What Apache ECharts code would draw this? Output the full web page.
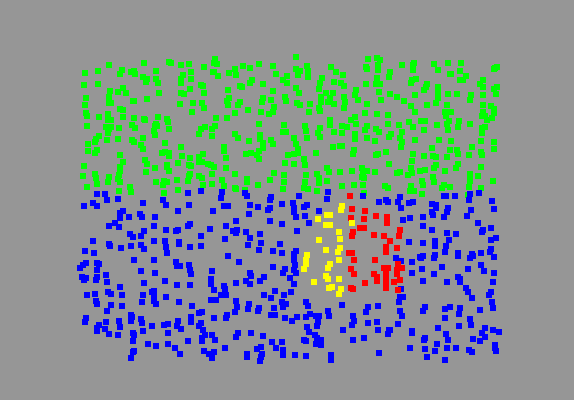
<!DOCTYPE html>
<html><head><meta charset="utf-8">
<style>html,body{margin:0;padding:0;background:#969696}#c{width:574px;height:400px}</style>
<script src="https://cdn.jsdelivr.net/npm/echarts@6/dist/echarts.min.js"></script>
</head><body><div id="c"></div>
<script>
const greenPoints = [[109,65],[144,63],[169,62],[171,63],[181,65],[189,64],[204,67],[215,59],[214,63],[217,64],[235,69],[243,66],[250,68],[259,64],[273,66],[85,73],[98,71],[122,70],[120,74],[131,72],[134,71],[135,74],[156,71],[191,72],[183,75],[213,72],[214,72],[229,73],[236,75],[276,74],[143,77],[147,79],[146,82],[156,79],[158,83],[181,79],[181,83],[191,79],[218,76],[252,80],[250,83],[287,76],[283,80],[287,83],[84,85],[98,84],[201,85],[203,86],[240,86],[242,87],[263,84],[123,88],[190,89],[228,90],[273,91],[110,91],[118,92],[126,93],[159,93],[181,93],[184,94],[204,93],[86,98],[109,97],[147,99],[133,101],[134,101],[229,98],[227,101],[263,98],[271,100],[285,97],[286,101],[85,105],[109,103],[111,103],[180,104],[193,103],[202,103],[228,105],[238,105],[240,102],[262,102],[120,109],[123,110],[204,108],[192,112],[248,110],[274,107],[261,112],[273,112],[269,114],[235,113],[86,113],[87,116],[99,117],[108,114],[123,117],[134,118],[144,119],[145,120],[158,117],[167,119],[216,118],[227,118],[108,120],[111,120],[168,122],[259,124],[87,126],[106,127],[111,127],[109,129],[119,128],[132,125],[135,128],[156,124],[155,126],[157,126],[169,129],[205,127],[201,129],[215,126],[212,129],[284,125],[108,133],[154,131],[155,135],[199,134],[212,136],[235,134],[238,138],[260,135],[283,132],[286,132],[99,136],[96,139],[95,142],[107,140],[118,139],[132,140],[134,142],[143,138],[165,143],[249,141],[260,139],[263,143],[271,140],[273,144],[88,144],[141,145],[143,149],[181,147],[224,147],[263,148],[88,151],[97,150],[95,153],[224,151],[259,151],[120,155],[162,153],[165,152],[169,153],[169,156],[182,156],[203,154],[199,157],[246,154],[251,153],[257,155],[288,155],[226,158],[259,159],[190,158],[145,160],[123,162],[147,164],[167,165],[178,163],[189,165],[191,166],[199,162],[202,162],[208,164],[211,165],[214,167],[285,163],[84,166],[120,167],[155,168],[167,167],[226,168],[169,171],[120,171],[146,172],[274,173],[190,174],[189,176],[95,174],[83,176],[109,177],[119,175],[212,174],[235,174],[284,175],[199,176],[202,178],[96,178],[97,184],[108,182],[118,179],[120,182],[156,182],[164,181],[167,182],[163,185],[177,180],[188,181],[222,180],[247,179],[247,182],[270,180],[284,182],[87,187],[130,187],[203,185],[212,184],[224,186],[258,185],[235,188],[236,189],[283,189],[119,191],[131,192],[164,193],[178,190],[245,190],
[296,57],[368,59],[377,58],[380,60],[378,65],[402,65],[414,63],[413,65],[434,64],[448,63],[461,63],[296,69],[300,71],[298,75],[307,66],[308,71],[308,77],[331,67],[336,72],[343,75],[366,67],[367,69],[378,70],[390,72],[389,77],[413,70],[438,70],[450,74],[451,74],[460,71],[466,76],[495,68],[497,67],[494,69],[322,78],[320,83],[334,82],[341,83],[344,86],[366,84],[377,78],[376,84],[380,84],[416,79],[411,83],[412,80],[427,84],[460,80],[463,80],[483,80],[480,84],[483,87],[497,87],[494,89],[438,87],[296,88],[299,93],[319,89],[326,93],[333,93],[356,90],[379,92],[390,94],[424,90],[426,87],[438,93],[448,94],[457,94],[415,95],[471,95],[483,95],[496,94],[321,97],[321,102],[328,102],[330,98],[334,104],[344,97],[345,102],[344,108],[355,95],[358,100],[381,100],[397,97],[404,101],[438,98],[436,103],[470,100],[297,103],[300,105],[310,104],[367,104],[411,106],[427,105],[447,105],[483,105],[491,106],[494,109],[319,108],[320,111],[309,112],[365,113],[377,114],[388,115],[415,112],[445,112],[451,112],[446,116],[483,112],[482,116],[485,116],[494,113],[492,118],[487,120],[355,117],[330,120],[351,120],[356,124],[330,125],[342,126],[347,127],[367,126],[365,130],[388,124],[399,125],[409,122],[413,127],[421,121],[425,121],[437,125],[447,124],[449,121],[459,121],[458,127],[470,124],[485,127],[482,128],[305,126],[306,131],[320,128],[318,133],[334,132],[342,133],[376,129],[379,132],[402,132],[424,130],[448,130],[482,133],[307,138],[320,137],[355,134],[355,139],[367,138],[375,141],[391,134],[389,137],[400,138],[402,142],[415,140],[439,140],[451,141],[481,141],[494,142],[294,138],[296,144],[298,149],[333,147],[340,146],[342,146],[401,147],[432,148],[472,147],[494,149],[294,154],[298,153],[316,153],[354,150],[353,154],[376,155],[378,154],[386,152],[413,154],[424,156],[433,156],[436,157],[450,150],[447,157],[457,150],[458,154],[469,155],[481,152],[482,155],[294,164],[304,159],[305,165],[412,161],[389,164],[436,165],[458,164],[456,168],[327,168],[329,172],[340,172],[352,171],[362,168],[363,172],[367,171],[375,172],[411,168],[420,171],[425,170],[434,168],[445,171],[481,167],[397,173],[400,172],[408,175],[412,173],[306,175],[317,174],[319,178],[319,183],[327,181],[362,177],[364,178],[363,185],[354,185],[422,181],[423,185],[433,177],[434,182],[470,174],[470,178],[478,176],[470,181],[493,181],[305,182],[342,186],[385,186],[388,188],[411,186],[410,191],[414,191],[444,185],[442,188],[450,187],[469,187],[481,188],[304,188],[308,189],[317,191],[364,193],[422,194],[468,195]];
const bluePoints = [[97,194],[105,194],[107,200],[118,199],[93,203],[97,206],[84,206],[143,203],[163,200],[166,205],[188,193],[201,191],[222,192],[221,198],[245,193],[247,196],[271,197],[270,200],[282,204],[250,205],[258,207],[224,206],[228,206],[189,205],[213,211],[178,211],[270,208],[268,210],[249,214],[123,211],[120,213],[120,218],[129,217],[140,214],[142,217],[155,217],[236,221],[270,221],[115,223],[109,226],[119,227],[154,226],[190,224],[188,226],[226,226],[282,224],[144,231],[166,230],[178,230],[176,231],[210,229],[233,231],[237,230],[236,233],[246,232],[130,234],[133,237],[141,236],[201,236],[260,234],[250,238],[225,239],[93,241],[109,244],[110,246],[121,248],[131,246],[141,245],[144,249],[154,241],[165,241],[166,247],[179,242],[179,244],[190,247],[201,246],[248,245],[261,243],[280,244],[259,250],[273,251],[282,253],[85,251],[94,253],[167,253],[228,256],[134,260],[154,260],[176,262],[239,262],[86,263],[83,265],[80,268],[97,263],[99,264],[97,270],[177,266],[180,266],[189,265],[190,270],[191,274],[212,271],[273,267],[285,269],[283,273],[141,271],[155,273],[250,273],[251,276],[106,275],[82,277],[86,278],[84,280],[97,277],[96,280],[107,282],[144,283],[165,281],[211,279],[211,284],[177,285],[190,285],[236,283],[246,281],[250,284],[264,277],[260,281],[120,287],[224,286],[225,289],[214,290],[108,292],[111,294],[87,295],[95,294],[122,295],[143,295],[154,291],[152,292],[154,296],[166,297],[221,295],[226,295],[275,291],[264,295],[284,295],[271,298],[96,301],[97,304],[111,305],[122,306],[142,302],[154,301],[156,304],[179,302],[211,300],[216,300],[236,301],[192,306],[249,304],[282,302],[286,304],[283,307],[274,308],[107,311],[237,307],[235,312],[248,309],[259,308],[258,311],[202,312],[199,313],[131,315],[132,317],[227,315],[226,318],[271,315],[275,315],[214,318],[191,317],[285,318],[86,318],[85,322],[106,322],[119,321],[131,321],[141,319],[142,323],[191,322],[178,321],[168,324],[164,325],[152,326],[201,323],[199,326],[177,326],[99,325],[120,327],[181,329],[97,328],[97,331],[105,329],[109,334],[118,335],[143,331],[133,333],[134,335],[168,333],[203,330],[205,335],[212,335],[238,333],[236,337],[251,333],[263,336],[133,341],[202,338],[202,341],[188,341],[215,340],[148,344],[156,346],[168,344],[272,342],[282,342],[276,348],[261,347],[257,349],[225,348],[175,348],[134,351],[133,352],[204,351],[214,352],[209,354],[180,354],[247,354],[262,354],[283,350],[283,355],[212,358],[131,358],[247,357],[261,357],[260,361],
[299,196],[328,192],[327,199],[293,203],[307,205],[304,207],[294,208],[294,212],[319,211],[305,216],[296,217],[309,223],[297,231],[379,202],[386,200],[388,202],[400,197],[398,202],[401,208],[413,202],[409,203],[363,196],[403,220],[410,218],[423,217],[423,226],[432,204],[436,205],[436,208],[432,212],[433,215],[448,208],[447,212],[444,217],[446,196],[444,196],[455,196],[470,194],[469,200],[479,193],[492,201],[494,209],[471,210],[467,216],[478,223],[432,230],[447,233],[456,234],[483,230],[482,232],[491,228],[491,240],[496,238],[449,240],[435,241],[435,246],[423,243],[409,242],[446,246],[445,252],[491,249],[490,252],[481,253],[458,253],[458,256],[472,254],[470,258],[473,256],[494,257],[435,255],[434,258],[423,256],[420,257],[421,258],[296,251],[294,254],[294,260],[295,265],[294,270],[296,273],[290,278],[294,284],[396,258],[401,261],[412,262],[422,269],[442,267],[481,265],[468,269],[484,271],[494,273],[412,273],[434,274],[458,277],[460,279],[460,282],[447,282],[423,281],[493,282],[466,288],[468,292],[291,292],[489,295],[491,292],[472,298],[401,289],[403,297],[400,297],[399,302],[306,302],[308,306],[342,305],[368,307],[378,306],[366,312],[492,302],[493,308],[425,307],[423,311],[450,307],[445,309],[460,308],[459,314],[480,310],[328,311],[329,316],[310,314],[316,316],[319,316],[306,317],[297,317],[400,311],[402,316],[353,316],[354,321],[352,325],[368,323],[377,322],[398,324],[292,321],[318,322],[317,326],[445,318],[470,319],[471,325],[459,326],[438,328],[307,327],[309,332],[343,330],[378,330],[390,330],[388,334],[389,330],[412,331],[412,333],[485,328],[493,330],[499,332],[482,333],[485,337],[446,334],[315,335],[317,338],[321,340],[321,345],[316,344],[304,340],[306,341],[353,340],[364,338],[425,338],[424,340],[448,340],[473,339],[480,341],[437,344],[495,345],[495,348],[447,348],[456,348],[410,348],[425,349],[435,351],[469,350],[472,352],[496,351],[295,355],[306,356],[331,355],[331,360],[379,353],[427,357],[445,360]];
const redPoints = [[350,196],[352,209],[365,211],[351,218],[364,219],[376,216],[387,217],[387,223],[360,228],[364,228],[400,230],[353,232],[352,236],[374,235],[384,236],[399,236],[390,241],[386,247],[386,252],[397,248],[349,253],[352,253],[354,260],[375,260],[398,264],[402,268],[351,269],[384,268],[388,268],[397,270],[397,274],[354,274],[374,274],[386,274],[386,278],[377,277],[377,281],[400,280],[394,282],[365,283],[386,284],[386,288],[351,288],[353,289],[398,290]];
const yellowPoints = [[342,206],[341,210],[327,215],[330,215],[318,219],[352,223],[326,225],[330,225],[339,232],[340,239],[319,240],[340,248],[338,252],[326,250],[307,255],[339,260],[306,260],[306,264],[330,264],[328,268],[304,269],[326,276],[328,279],[339,279],[314,282],[329,288],[332,287],[341,289],[339,294]];

const seriesDefs = [[greenPoints,'#00ff00'],[bluePoints,'#0000ff'],[redPoints,'#ff0000'],[yellowPoints,'#ffff00']];
const chart = echarts.init(document.getElementById('c'), null, {renderer:'canvas'});
chart.setOption({
  animation:false,
  backgroundColor:'#969696',
  grid:{left:0,right:0,top:0,bottom:0},
  xAxis:{type:'value',min:0,max:574,show:false},
  yAxis:{type:'value',min:0,max:400,inverse:true,show:false},
  series:seriesDefs.map(([data,color])=>({
    type:'scatter',data,symbol:'rect',symbolSize:6,silent:true,large:false,
    itemStyle:{color,opacity:1}
  }))
});
</script></body></html>
